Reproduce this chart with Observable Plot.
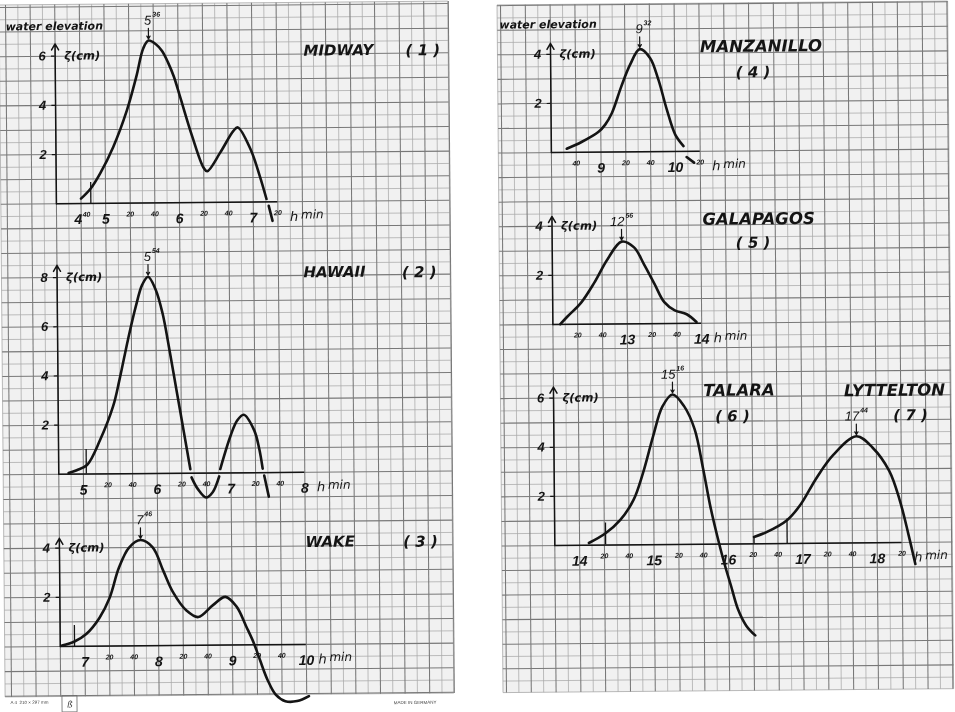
<!DOCTYPE html>
<html>
<head>
<meta charset="utf-8">
<title>Water elevation records</title>
<script src="https://cdn.jsdelivr.net/npm/d3@7"></script>
<script src="https://cdn.jsdelivr.net/npm/@observablehq/plot@0.6"></script>
<style>
  html, body { margin: 0; padding: 0; background: #ffffff; }
  #page { position: relative; width: 955px; height: 712px; overflow: hidden; background: #ffffff; filter: grayscale(1); }
  .sheet { position: absolute; left: 0; top: 0; width: 955px; height: 712px; }
  .sheet svg { position: absolute; left: 0; top: 0; }
</style>
</head>
<body>
<div id="page"></div>
<script>
// ================= DATA =================
const stationNames = ["MIDWAY", "HAWAII", "WAKE", "MANZANILLO", "GALAPAGOS", "TALARA", "LYTTELTON"];
const stationNumbers = ["( 1 )", "( 2 )", "( 3 )", "( 4 )", "( 5 )", "( 6 )", "( 7 )"];
const peakHour = ["5", "5", "7", "9", "12", "15", "17"];
const peakMinute = ["36", "54", "46", "32", "56", "16", "44"];
const peakElev = [6.6, 8.0, 4.3, 4.18, 3.35, 6.11, 4.34];

// MIDWAY (1)  time in hours, elevation in cm, pen = drawn stroke piece
const midwayTime = [4.667, 4.80, 4.93, 5.11, 5.30, 5.43, 5.53, 5.60, 5.70, 5.78, 5.86, 5.94, 6.02, 6.18, 6.33, 6.38, 6.56, 6.74, 6.80, 6.97, 7.09, 7.18, 7.21, 7.26];
const midwayElev = [0.2, 0.61, 1.22, 2.29, 3.78, 5.13, 6.3, 6.6, 6.45, 6.18, 5.72, 5.12, 4.32, 2.7, 1.42, 1.27, 2.03, 2.9, 3.04, 2.15, 1.07, 0.12, -0.16, -0.77];
const midwayPen = [0, 0, 0, 0, 0, 0, 0, 0, 0, 0, 0, 0, 0, 0, 0, 0, 0, 0, 0, 0, 0, 0, 1, 1];
const midwayTickTime = [4.667, 5, 5.333, 5.667, 6, 6.333, 6.667, 7, 7.333];
const midwayTickText = ["4:40", "5", ":20", ":40", "6", ":20", ":40", "7", ":20"];
const midwayYTicks = [2, 4, 6];
const midwayMarkTime = [4.80];
const midwayMarkElev = [0.85];

// HAWAII (2)
const hawaiiTime = [4.80, 4.91, 5.05, 5.23, 5.41, 5.50, 5.62, 5.73, 5.82, 5.90, 6.00, 6.09, 6.18, 6.27, 6.36, 6.45,
  6.465, 6.55, 6.66, 6.75, 6.84,
  6.855, 7.00, 7.09, 7.18, 7.32, 7.385, 7.43,
  7.45, 7.51];
const hawaiiElev = [0.05, 0.16, 0.37, 1.38, 2.74, 3.82, 5.45, 6.8, 7.68, 8.0, 7.48, 6.53, 5.04, 3.41, 1.79, 0.16,
  -0.17, -0.65, -0.99, -0.78, -0.14,
  0.16, 1.52, 2.13, 2.36, 1.72, 0.98, 0.16,
  -0.12, -0.98];
const hawaiiPen = [0, 0, 0, 0, 0, 0, 0, 0, 0, 0, 0, 0, 0, 0, 0, 0,
  1, 1, 1, 1, 1,
  2, 2, 2, 2, 2, 2, 2,
  3, 3];
const hawaiiTickTime = [5, 5.333, 5.667, 6, 6.333, 6.667, 7, 7.333, 7.667, 8];
const hawaiiTickText = ["5", ":20", ":40", "6", ":20", ":40", "7", ":20", ":40", "8"];
const hawaiiYTicks = [2, 4, 6, 8];
const hawaiiMarkTime = [5.04];
const hawaiiMarkElev = [1.0];

// WAKE (3)
const wakeTime = [6.69, 6.86, 7.02, 7.20, 7.34, 7.47, 7.61, 7.767, 7.93, 8.07, 8.20, 8.38, 8.54, 8.74, 8.91, 9.06, 9.19, 9.29, 9.37, 9.47, 9.58, 9.71, 9.87, 10.03];
const wakeElev = [0.04, 0.2, 0.5, 1.15, 1.96, 3.18, 4.0, 4.3, 4.0, 3.05, 2.17, 1.42, 1.15, 1.63, 1.96, 1.56, 0.74, 0.07, -0.61, -1.42, -2.03, -2.3, -2.3, -2.1];
const wakePen = [0, 0, 0, 0, 0, 0, 0, 0, 0, 0, 0, 0, 0, 0, 0, 0, 0, 0, 0, 0, 0, 0, 0, 0];
const wakeTickTime = [7, 7.333, 7.667, 8, 8.333, 8.667, 9, 9.333, 9.667, 10];
const wakeTickText = ["7", ":20", ":40", "8", ":20", ":40", "9", ":20", ":40", "10"];
const wakeYTicks = [2, 4];
const wakeMarkTime = [6.86];
const wakeMarkElev = [0.85];

// MANZANILLO (4)
const manzanilloTime = [8.54, 8.74, 8.97, 9.06, 9.15, 9.28, 9.40, 9.533, 9.67, 9.78, 9.89, 10.0, 10.11, 10.15, 10.25];
const manzanilloElev = [0.15, 0.42, 0.83, 1.12, 1.58, 2.66, 3.54, 4.18, 3.82, 2.93, 1.71, 0.69, 0.22, -0.23, -0.46];
const manzanilloPen = [0, 0, 0, 0, 0, 0, 0, 0, 0, 0, 0, 0, 0, 1, 1];
const manzanilloTickTime = [8.667, 9, 9.333, 9.667, 10, 10.333];
const manzanilloTickText = [":40", "9", ":20", ":40", "10", ":20"];
const manzanilloYTicks = [2, 4];

// GALAPAGOS (5)
const galapagosTime = [12.10, 12.20, 12.38, 12.56, 12.74, 12.933, 13.10, 13.23, 13.37, 13.50, 13.64, 13.80, 13.93];
const galapagosElev = [0.01, 0.33, 0.87, 1.68, 2.63, 3.35, 3.11, 2.43, 1.62, 0.87, 0.53, 0.37, 0.05];
const galapagosPen = [0, 0, 0, 0, 0, 0, 0, 0, 0, 0, 0, 0, 0];
const galapagosTickTime = [12.333, 12.667, 13, 13.333, 13.667, 14];
const galapagosTickText = [":20", ":40", "13", ":20", ":40", "14"];
const galapagosYTicks = [2, 4];

// TALARA (6)
const talaraTime = [14.125, 14.35, 14.55, 14.73, 14.86, 15.0, 15.13, 15.267, 15.42, 15.56, 15.67, 15.76, 15.85, 15.94, 16.03, 16.12, 16.23, 16.35];
const talaraElev = [0.09, 0.48, 1.02, 1.83, 2.92, 4.41, 5.63, 6.11, 5.63, 4.68, 3.05, 1.56, 0.34, -0.75, -1.7, -2.65, -3.33, -3.73];
const talaraPen = [0, 0, 0, 0, 0, 0, 0, 0, 0, 0, 0, 0, 0, 0, 0, 0, 0, 0];
// LYTTELTON (7)
const lytteltonTime = [16.345, 16.52, 16.79, 16.97, 17.19, 17.42, 17.733, 17.95, 18.17, 18.31, 18.42, 18.51];
const lytteltonElev = [0.28, 0.48, 0.95, 1.56, 2.65, 3.59, 4.34, 3.87, 2.92, 1.7, 0.34, -0.88];
const lytteltonPen = [0, 0, 0, 0, 0, 0, 0, 0, 0, 0, 0, 0];
const talaraTickTime = [14, 14.333, 14.667, 15, 15.333, 15.667, 16, 16.333, 16.667, 17, 17.333, 17.667, 18, 18.333];
const talaraTickText = ["14", ":20", ":40", "15", ":20", ":40", "16", ":20", ":40", "17", ":20", ":40", "18", ":20"];
const talaraYTicks = [2, 4, 6];
const talaraMarkTime = [14.35, 16.345, 16.79];
const talaraMarkElev = [0.9, 0.28, 1.0];

// ================= LAYOUT (graph-paper geometry, page pixels) =================
const W = 955, H = 712;
const INK = "#141414", PAPER = "#f1f2ec", MAJOR = "#787974", MINOR = "#a8a9a3";
const NAMEFONT = "DejaVu Sans", NUMFONT = "Liberation Sans";
const SHEETS = {
  left:  {x0: 8,   y0: 5,   dx: 24.6, dy: 24.6,  c0: -0.24, c1: 18.0,  r0: -0.08, r1: 28.05, cx: 226, cy: 349, rot: -0.5},
  right: {x0: 503, y0: 3.2, dx: 24.8, dy: 24.56, c0: -0.12, c1: 18.05, r0: -0.01, r1: 27.99, cx: 727, cy: 348, rot: -0.5}
};
// annotation positions in paper cells (column, row)
const NOTES = {
  left: {
    water: [{c: 0.0, r: 0.79}],
    namesStart: [{c: 12.1, r: 1.87, i: 0}, {c: 12.02, r: 10.88, i: 1}, {c: 12.0, r: 21.84, i: 2}],
    namesMiddle: [],
    numbers: [{c: 16.95, r: 1.9, i: 0}, {c: 16.72, r: 10.92, i: 1}, {c: 16.68, r: 21.87, i: 2}],
    nameSize: 15
  },
  right: {
    water: [{c: -0.05, r: 0.79}],
    namesStart: [],
    namesMiddle: [{c: 10.49, r: 1.75, i: 3}, {c: 10.33, r: 8.78, i: 4}, {c: 9.48, r: 15.75, i: 5}, {c: 15.75, r: 15.81, i: 6}],
    numbers: [{c: 10.16, r: 2.81, i: 3}, {c: 10.10, r: 9.75, i: 4}, {c: 9.21, r: 16.81, i: 5}, {c: 16.39, r: 16.83, i: 6}],
    nameSize: 16.5
  }
};

const series = (time, elev, pen) => ({time, elev, pen});
const PANELS = [
  {sheet: "left", refCol: 4, refT: 5, baseRow: 8, axisCol: 2, endCol: 11, axisTop: 6.5,
   series: [series(midwayTime, midwayElev, midwayPen)], tickTime: midwayTickTime, tickText: midwayTickText,
   yTicks: midwayYTicks, markTime: midwayMarkTime, markElev: midwayMarkElev, peaks: [0]},
  {sheet: "left", refCol: 3, refT: 5, baseRow: 19, axisCol: 2, endCol: 12, axisTop: 8.5,
   series: [series(hawaiiTime, hawaiiElev, hawaiiPen)], tickTime: hawaiiTickTime, tickText: hawaiiTickText,
   yTicks: hawaiiYTicks, markTime: hawaiiMarkTime, markElev: hawaiiMarkElev, peaks: [1]},
  {sheet: "left", refCol: 3, refT: 7, baseRow: 26, axisCol: 2, endCol: 12, axisTop: 4.4,
   series: [series(wakeTime, wakeElev, wakePen)], tickTime: wakeTickTime, tickText: wakeTickText,
   yTicks: wakeYTicks, markTime: wakeMarkTime, markElev: wakeMarkElev, peaks: [2]},
  {sheet: "right", refCol: 4, refT: 9, baseRow: 6, axisCol: 2, endCol: 8, axisTop: 4.45,
   series: [series(manzanilloTime, manzanilloElev, manzanilloPen)], tickTime: manzanilloTickTime, tickText: manzanilloTickText,
   yTicks: manzanilloYTicks, markTime: [], markElev: [], peaks: [3]},
  {sheet: "right", refCol: 5, refT: 13, baseRow: 13, axisCol: 2, endCol: 8, axisTop: 4.4,
   series: [series(galapagosTime, galapagosElev, galapagosPen)], tickTime: galapagosTickTime, tickText: galapagosTickText,
   yTicks: galapagosYTicks, markTime: [], markElev: [], peaks: [4]},
  {sheet: "right", refCol: 3, refT: 14, baseRow: 22, axisCol: 2, endCol: 16, axisTop: 6.45,
   series: [series(talaraTime, talaraElev, talaraPen), series(lytteltonTime, lytteltonElev, lytteltonPen)],
   tickTime: talaraTickTime, tickText: talaraTickText,
   yTicks: talaraYTicks, markTime: talaraMarkTime, markElev: talaraMarkElev, peaks: [5, 6]}
];

const SVGSTYLE = "background: transparent; overflow: visible; max-width: none; position: absolute; left: 0; top: 0;";
const bi = (family, size) => ({fontFamily: family, fontSize: size, fontWeight: "bold", fontStyle: "italic", fill: INK});
const it = (family, size) => ({fontFamily: family, fontSize: size, fontWeight: "normal", fontStyle: "italic", fill: INK});

// ================= graph paper sheet =================
function sheetPlot(s, n) {
  const majorC = d3.range(Math.ceil(s.c0), Math.floor(s.c1) + 1);
  const minorC = d3.range(Math.ceil(s.c0 - 0.5) + 0.5, s.c1, 1);
  const majorR = d3.range(Math.ceil(s.r0), Math.floor(s.r1) + 1);
  const minorR = d3.range(Math.ceil(s.r0 - 0.5) + 0.5, s.r1, 1);
  const name = d => stationNames[d.i], num = d => stationNumbers[d.i];
  const marks = [
    Plot.rect([s], {x1: "c0", x2: "c1", y1: "r0", y2: "r1", fill: PAPER, stroke: MINOR, strokeWidth: 0.8}),
    Plot.ruleX(minorC, {x: d => d, y1: () => s.r0, y2: () => s.r1, stroke: MINOR, strokeWidth: 0.75}),
    Plot.ruleY(minorR, {y: d => d, x1: () => s.c0, x2: () => s.c1, stroke: MINOR, strokeWidth: 0.75}),
    Plot.ruleX(majorC, {x: d => d, y1: () => s.r0, y2: () => s.r1, stroke: MAJOR, strokeWidth: 1.05}),
    Plot.ruleY(majorR, {y: d => d, x1: () => s.c0, x2: () => s.c1, stroke: MAJOR, strokeWidth: 1.05}),
    Plot.text(n.water, {x: "c", y: "r", text: () => "water elevation", textAnchor: "start", ...bi(NAMEFONT, 11)}),
    Plot.text(n.namesStart, {x: "c", y: "r", text: name, textAnchor: "start", ...bi(NAMEFONT, n.nameSize)}),
    Plot.text(n.namesMiddle, {x: "c", y: "r", text: name, ...bi(NAMEFONT, n.nameSize)}),
    Plot.text(n.numbers, {x: "c", y: "r", text: num, ...bi(NAMEFONT, 15)})
  ];
  if (s === SHEETS.left) {
    marks.push(
      Plot.text([{c: -0.04, r: 28.26}], {x: "c", y: "r", text: () => "A 4  210 × 297 mm", textAnchor: "start", fontFamily: NUMFONT, fontSize: 4.5, fill: "#444"}),
      Plot.rect([{a: 2.07, b: 2.68, r1: 28.02, r2: 28.68}], {x1: "a", x2: "b", y1: "r1", y2: "r2", fill: "none", stroke: "#666", strokeWidth: 0.8}),
      Plot.text([{c: 2.37, r: 28.36}], {x: "c", y: "r", text: () => "ß", fontFamily: NAMEFONT, fontStyle: "italic", fontSize: 9, fill: "#444"}),
      Plot.text([{c: 16.4, r: 28.4}], {x: "c", y: "r", text: () => "MADE IN GERMANY", fontFamily: NUMFONT, fontSize: 4.5, fill: "#444"})
    );
  }
  return Plot.plot({
    width: W, height: H, margin: 0,
    x: {type: "linear", domain: [(0 - s.x0) / s.dx, (W - s.x0) / s.dx], range: [0, W], axis: null},
    y: {type: "linear", domain: [(0 - s.y0) / s.dy, (H - s.y0) / s.dy], range: [0, H], axis: null},
    style: SVGSTYLE,
    marks
  });
}

// ================= one recording panel =================
function panelPlot(s, p) {
  const tAt = px => p.refT + ((px - s.x0) / s.dx - p.refCol) / 3;
  const vAt = py => p.baseRow - (py - s.y0) / s.dy;
  const axisT = p.refT + (p.axisCol - p.refCol) / 3;
  const endT = p.refT + (p.endCol - p.refCol) / 3;
  const curve = [];
  p.series.forEach((sr, k) => sr.time.forEach((t, i) => curve.push({t, v: sr.elev[i], pen: k + "-" + sr.pen[i]})));
  const ticks = p.tickTime.map((t, i) => { const [h, m] = p.tickText[i].split(":"); return {t, h, m}; });
  const peaks = p.peaks.map(i => ({t: +peakHour[i] + +peakMinute[i] / 60, h: peakHour[i], m: peakMinute[i], v: peakElev[i]}));
  const arrivals = p.markTime.map((t, i) => ({t, h: p.markElev[i]}));
  const top = d3.max(p.yTicks);
  return Plot.plot({
    width: W, height: H, margin: 0,
    x: {type: "linear", domain: [tAt(0), tAt(W)], range: [0, W], axis: null},
    y: {type: "linear", domain: [vAt(H), vAt(0)], range: [H, 0], axis: null},
    style: SVGSTYLE,
    marks: [
      // axes
      Plot.ruleY([0], {x1: () => axisT, x2: () => endT, stroke: INK, strokeWidth: 1.5}),
      Plot.arrow([{t: axisT, top: p.axisTop}], {x1: "t", x2: "t", y1: () => 0, y2: "top", stroke: INK, strokeWidth: 1.5, headLength: 7}),
      Plot.ruleY(p.yTicks, {y: d => d, x1: () => axisT - 0.05, x2: () => axisT, stroke: INK, strokeWidth: 1.2}),
      Plot.text(p.yTicks, {x: () => axisT, y: d => d, text: d => String(d), dx: -13, ...bi(NUMFONT, 13)}),
      Plot.text([{t: axisT, v: top}], {x: "t", y: "v", text: () => "ζ(cm)", dx: 9, textAnchor: "start", ...bi(NAMEFONT, 11.5)}),
      // time tick labels
      Plot.text(ticks.filter(d => d.h && !d.m), {x: "t", y: () => 0, text: "h", dy: 16, ...bi(NUMFONT, 14)}),
      Plot.text(ticks.filter(d => d.h && d.m), {x: "t", y: () => 0, text: "h", dy: 16, dx: 1, textAnchor: "end", ...bi(NUMFONT, 14)}),
      Plot.text(ticks.filter(d => d.m && !d.h), {x: "t", y: () => 0, text: "m", dy: 11, ...bi(NUMFONT, 7)}),
      Plot.text(ticks.filter(d => d.m && d.h), {x: "t", y: () => 0, text: "m", dy: 11, dx: 1.5, textAnchor: "start", ...bi(NUMFONT, 7)}),
      Plot.text([{t: endT}], {x: "t", y: () => 0, text: () => "h", dx: 12, dy: 15, textAnchor: "start", ...it(NAMEFONT, 13)}),
      Plot.text([{t: endT}], {x: "t", y: () => 0, text: () => "min", dx: 23, dy: 13, textAnchor: "start", ...it(NAMEFONT, 12)}),
      // arrival marks
      Plot.ruleX(arrivals, {x: "t", y1: () => 0, y2: "h", stroke: INK, strokeWidth: 1.3}),
      // records
      Plot.line(curve, {x: "t", y: "v", z: "pen", curve: "catmull-rom", stroke: INK, strokeWidth: 2.6, strokeLinecap: "round", strokeLinejoin: "round"}),
      // peak times
      Plot.arrow(peaks, {x1: "t", x2: "t", y1: d => d.v + 0.5, y2: d => d.v + 0.07, stroke: INK, strokeWidth: 1.2, headLength: 4}),
      Plot.text(peaks, {x: "t", y: "v", text: "h", dy: -20, dx: 3, textAnchor: "end", ...it(NUMFONT, 13)}),
      Plot.text(peaks, {x: "t", y: "v", text: "m", dy: -26, dx: 4, textAnchor: "start", ...bi(NUMFONT, 7)})
    ]
  });
}

// ================= assemble =================
const page = document.getElementById("page");
for (const key of ["left", "right"]) {
  const s = SHEETS[key];
  const div = document.createElement("div");
  div.className = "sheet";
  div.style.transformOrigin = `${s.cx}px ${s.cy}px`;
  div.style.transform = `rotate(${s.rot}deg)`;
  div.appendChild(sheetPlot(s, NOTES[key]));
  for (const p of PANELS.filter(p => p.sheet === key)) div.appendChild(panelPlot(s, p));
  page.appendChild(div);
}
</script>
</body>
</html>
